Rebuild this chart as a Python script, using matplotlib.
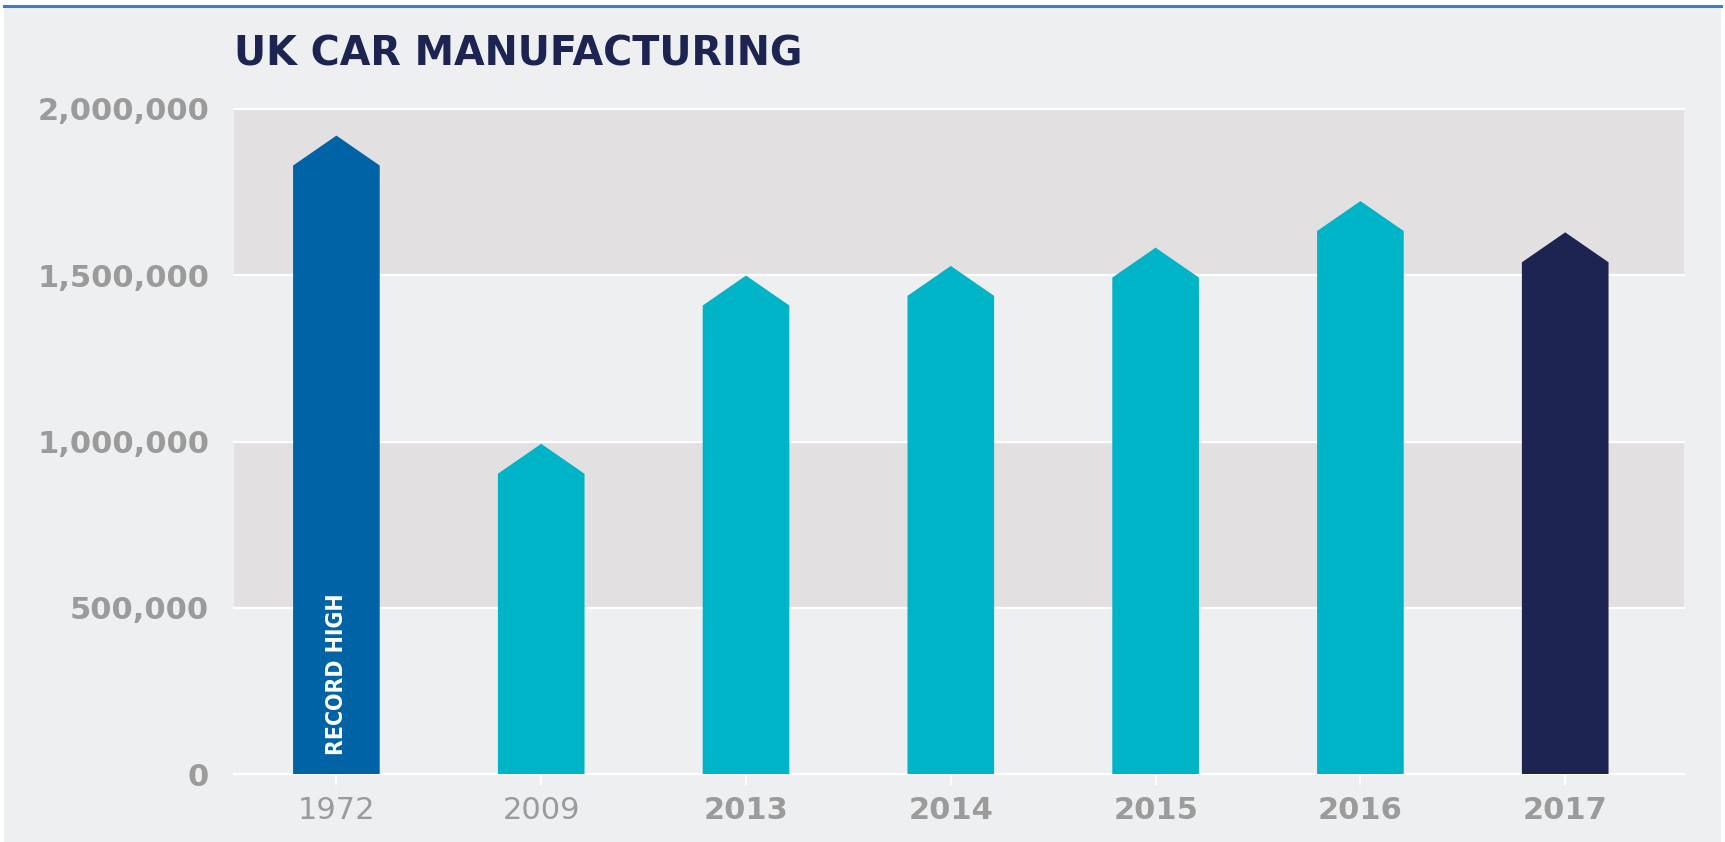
import matplotlib
matplotlib.use("Agg")
import matplotlib.pyplot as plt
from matplotlib.patches import Polygon, Rectangle
from matplotlib.lines import Line2D
from matplotlib.ticker import FuncFormatter

plt.rcParams["font.family"] = ["DejaVu Sans"]

YEARS = ["1972", "2009", "2013", "2014", "2015", "2016", "2017"]
CARS = [1920000, 993000, 1499000, 1528000, 1583000, 1723000, 1629000]
BAR_COLORS = ["#0063A6", "#00B4C8", "#00B4C8", "#00B4C8", "#00B4C8", "#00B4C8", "#1D2452"]
BOLD_YEAR = [False, False, True, True, True, True, True]
Y_TICKS = [0, 500000, 1000000, 1500000, 2000000]
BANDS = [(500000, 1000000), (1500000, 2000000)]

BG = "#EEEFF1"
BAND = "#E2E0E1"
LABEL_GREY = "#9B9B9B"
NAVY = "#1D2452"
CAP = 90000      # height of the arrow tip in data units
BAR_W = 0.423

W, H = 1725, 842
fig = plt.figure(figsize=(W / 100, H / 100), dpi=100, facecolor="white")
fig.add_artist(Rectangle((4 / W, 0), 1717 / W, 1 - 6 / H, transform=fig.transFigure,
                         facecolor=BG, edgecolor="none", zorder=-10))
fig.add_artist(Line2D([4 / W, 1721 / W], [1 - 5.5 / H] * 2, transform=fig.transFigure,
                      color="#3B7DC9", lw=2.2))

ax = fig.add_axes([234 / W, 68 / H, 1450 / W, 665 / H])
ax.set_facecolor(BG)
ax.set_xlim(-0.5, 6.58)
ax.set_ylim(0, 2000000)

for lo, hi in BANDS:
    ax.axhspan(lo, hi, color=BAND, lw=0, zorder=0)
for t in Y_TICKS:
    ax.axhline(t, color="white", lw=1.6, zorder=1, clip_on=False)

for i, (v, c) in enumerate(zip(CARS, BAR_COLORS)):
    l, r = i - BAR_W / 2, i + BAR_W / 2
    pts = [(l, 0), (l, v - CAP), (i, v), (r, v - CAP), (r, 0)]
    ax.add_patch(Polygon(pts, closed=True, facecolor=c, edgecolor="none", zorder=2))

ax.annotate("RECORD HIGH", (0, 0), xytext=(0, 14), textcoords="offset points",
            rotation=90, ha="center", va="bottom", color="white",
            fontsize=16.5, fontweight="bold", fontstretch="condensed",
            family=["DejaVu Sans"], zorder=3)

for s in ax.spines.values():
    s.set_visible(False)

ax.set_yticks(Y_TICKS)
ax.yaxis.set_major_formatter(FuncFormatter(lambda v, p: f"{int(v):,}"))
ax.tick_params(axis="y", length=0, pad=18, labelsize=22, labelcolor=LABEL_GREY)
for lab in ax.get_yticklabels():
    lab.set_fontweight("bold")

ax.set_xticks(range(len(YEARS)))
ax.set_xticklabels(YEARS)
ax.tick_params(axis="x", length=8, width=1.4, color="white", pad=8,
               labelsize=22, labelcolor=LABEL_GREY)
for lab, b in zip(ax.get_xticklabels(), BOLD_YEAR):
    lab.set_fontweight("bold" if b else "normal")

fig.text(234 / W, 1 - 66 / H, "UK CAR MANUFACTURING", fontsize=28.5, fontweight="bold",
         color=NAVY, ha="left", va="baseline")

fig.savefig("out.png", dpi=100, facecolor=fig.get_facecolor())
